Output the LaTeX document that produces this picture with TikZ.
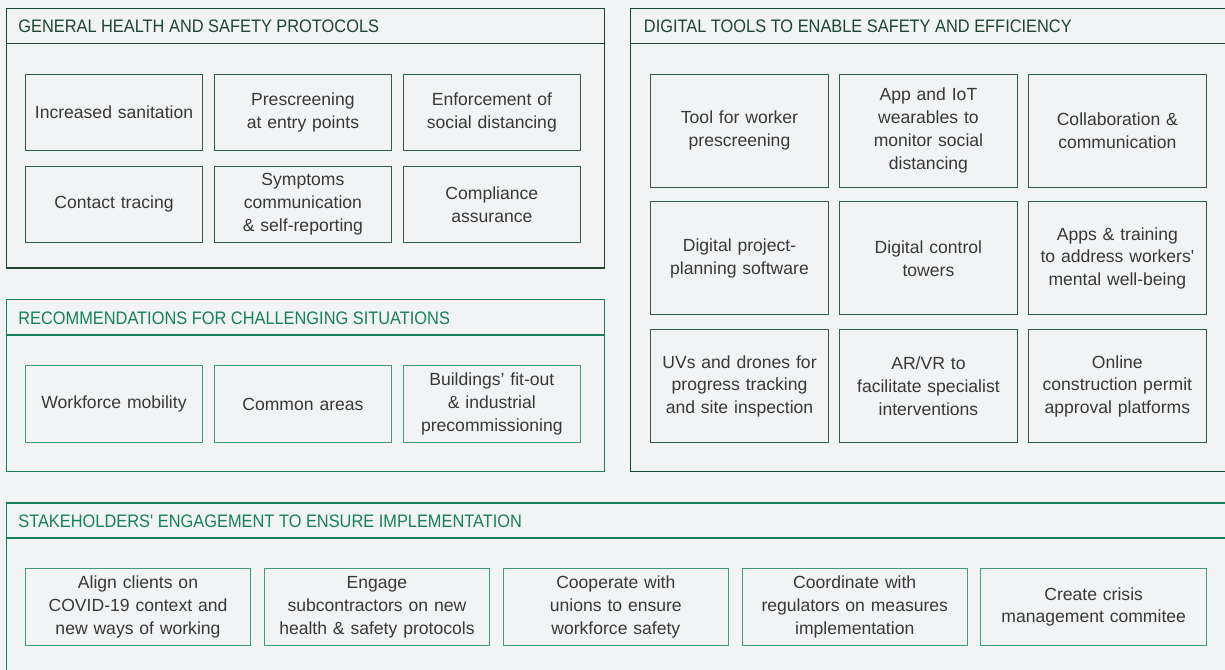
\documentclass[tikz,border=0pt]{standalone}
\usepackage{fontspec}
\setmainfont{Liberation Sans}
\newfontfamily\headfont[FakeStretch=0.905]{Liberation Sans}
\usetikzlibrary{positioning}

\definecolor{pagebg}{HTML}{F1F3F4}
\definecolor{darkgreen}{HTML}{1C4630}
\definecolor{darkitem}{HTML}{2F5F46}
\definecolor{midgreen}{HTML}{17805A}
\definecolor{lightitem}{HTML}{3F9C78}
\definecolor{bodytext}{HTML}{383838}

\begin{document}
\begin{tikzpicture}[
    x=0.02cm, y=-0.02cm,
    node distance=0.28cm and 0.21cm,
    panel/.style={rectangle, draw=darkgreen, line width=0.85pt, anchor=north west, inner sep=0pt},
    header/.style={anchor=base west, inner sep=0pt, text=darkgreen, font=\headfont\fontsize{10.3}{12}\selectfont},
    item/.style={rectangle, draw=darkitem, line width=0.55pt, minimum width=3.55cm, minimum height=1.53cm,
    text width=3.5cm, align=center, inner sep=0pt, text=bodytext, font=\fontsize{10}{13}\selectfont},
    tallitem/.style={item, minimum height=2.26cm},
    wideitem/.style={item, draw=lightitem, minimum width=4.51cm, text width=4.45cm},
    greenitem/.style={item, draw=lightitem}
]

\fill[pagebg] (0,0) rectangle (1225,670);
\useasboundingbox (0,0) rectangle (1225,670);

% Panels
\node[panel, minimum width=11.97cm, minimum height=5.2cm] (general) at (5.5,7.5) {};
\draw[darkgreen, line width=0.85pt] ([yshift=-0.72cm]general.north west) -- ([yshift=-0.72cm]general.north east);
\node[header] (generaltitle) at ([xshift=0.25cm, yshift=-0.51cm]general.north west)
    {GENERAL HEALTH AND SAFETY PROTOCOLS};

\node[panel, draw=midgreen, minimum width=11.97cm, minimum height=3.44cm] (challenge) at (5.5,299) {};
\draw[midgreen, line width=0.85pt] ([yshift=-0.72cm]challenge.north west) -- ([yshift=-0.72cm]challenge.north east);
\node[header, text=midgreen] (challengetitle) at ([xshift=0.25cm, yshift=-0.51cm]challenge.north west)
    {RECOMMENDATIONS FOR CHALLENGING SITUATIONS};

\node[panel, minimum width=12.2cm, minimum height=9.27cm] (digital) at (629.6,7.5) {};
\draw[darkgreen, line width=0.85pt] ([yshift=-0.72cm]digital.north west) -- ([yshift=-0.72cm]digital.north east);
\node[header] (digitaltitle) at ([xshift=0.28cm, yshift=-0.51cm]digital.north west)
    {DIGITAL TOOLS TO ENABLE SAFETY AND EFFICIENCY};

\node[panel, draw=midgreen, minimum width=24.7cm, minimum height=3.8cm] (stakeholders) at (5.5,502) {};
\draw[midgreen, line width=0.85pt] ([yshift=-0.72cm]stakeholders.north west) -- ([yshift=-0.72cm]stakeholders.north east);
\node[header, text=midgreen] (stakeholderstitle) at ([xshift=0.25cm, yshift=-0.51cm]stakeholders.north west)
    {STAKEHOLDERS\textquotesingle{} ENGAGEMENT TO ENSURE IMPLEMENTATION};

% General protocols
\node[item] (sanitation) at (114,112.5) {Increased sanitation};
\node[item, right=of sanitation] (prescreen) {Prescreening\\at entry points};
\node[item, right=of prescreen] (distancing) {Enforcement of\\social distancing};
\node[item, below=0.29cm of sanitation] (tracing) {Contact tracing};
\node[item, right=of tracing] (symptoms) {Symptoms\\communication\\\& self-reporting};
\node[item, right=of symptoms] (compliance) {Compliance\\assurance};

% Challenging situations
\node[greenitem] (mobility) at (114,404) {Workforce mobility};
\node[greenitem, right=of mobility] (common) {Common areas};
\node[greenitem, right=of common] (fitout) {Buildings’ fit-out\\\& industrial\\precommissioning};

% Digital tools
\node[tallitem] (workertool) at (739.5,130.5) {Tool for worker\\prescreening};
\node[tallitem, right=of workertool] (wearables) {App and IoT\\wearables to\\monitor social\\distancing};
\node[tallitem, right=of wearables] (collab) {Collaboration \&\\communication};
\node[tallitem, below=of workertool] (planning) {Digital project-\\planning software};
\node[tallitem, right=of planning] (towers) {Digital control\\towers};
\node[tallitem, right=of towers] (wellbeing) {Apps \& training\\to address workers\textquotesingle\\mental well-being};
\node[tallitem, below=of planning] (drones) {UVs and drones for\\progress tracking\\and site inspection};
\node[tallitem, right=of drones] (arvr) {AR/VR to\\facilitate specialist\\interventions};
\node[tallitem, right=of arvr] (permit) {Online\\construction permit\\approval platforms};

% Stakeholders
\node[wideitem] (clients) at (138,607) {Align clients on\\COVID-19 context and\\new ways of working};
\node[wideitem, right=0.25cm of clients] (subcontractors) {Engage\\subcontractors on new\\health \& safety protocols};
\node[wideitem, right=0.25cm of subcontractors] (unions) {Cooperate with\\unions to ensure\\workforce safety};
\node[wideitem, right=0.25cm of unions] (regulators) {Coordinate with\\regulators on measures\\implementation};
\node[wideitem, right=0.25cm of regulators] (crisis) {Create crisis\\management commitee};

\end{tikzpicture}
\end{document}
